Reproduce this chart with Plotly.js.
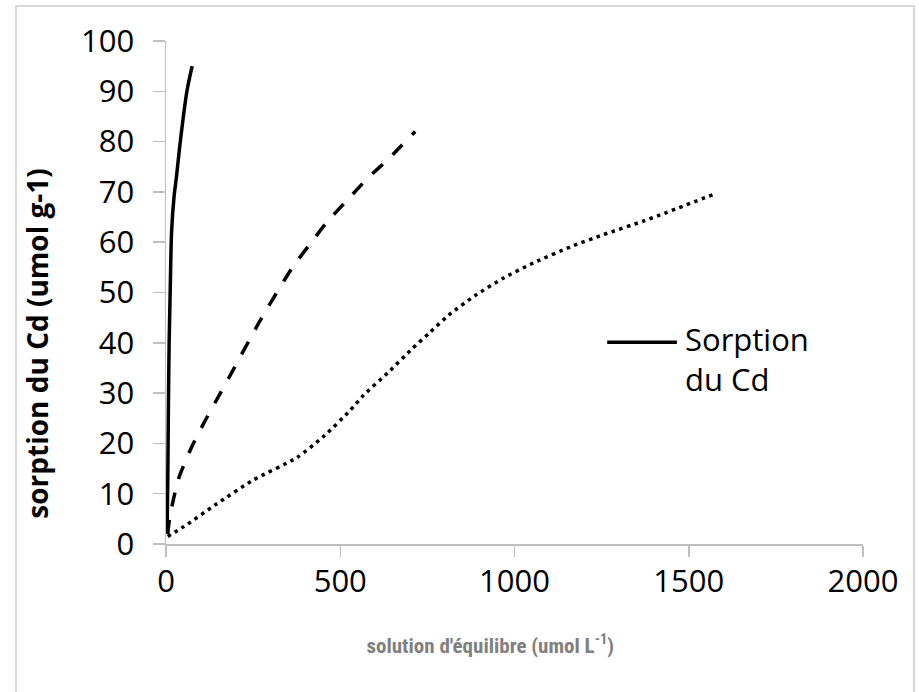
<!DOCTYPE html>
<html>
<head>
<meta charset="utf-8">
<script src="https://cdn.plot.ly/plotly-3.0.1.min.js"></script>
<style>
  html, body { margin: 0; padding: 0; background: #fff; }
  #wrap { position: relative; width: 919px; height: 692px; overflow: hidden; }
  #chart { position: absolute; left: 0; top: 0; width: 919px; height: 692px; }
  #frame { position: absolute; left: 15px; top: 5px; width: 896px; height: 720px;
           border: 2px solid #d9d9d9; pointer-events: none; }
</style>
</head>
<body>
<div id="wrap">
  <div id="chart"></div>
  <div id="frame"></div>
</div>
<script>
// ---- data ----
const seriesNames = ["Sorption du Cd", "Série 2", "Série 3"];

const solidX = [3, 5, 7, 9, 12, 16, 23, 30, 41, 60, 75];
const solidY = [2, 12, 28, 40, 50, 62, 69, 73, 80, 90, 95];

const dashX = [5, 10, 17, 36, 75, 113, 156, 184, 270, 361, 414, 462, 519, 577, 639, 715];
const dashY = [2, 5, 7.5, 13, 19.5, 24.6, 30, 33.5, 44.4, 54.8, 59.7, 64, 68.3, 72.6, 76.6, 82];

const dotX = [5, 50, 146, 250, 376, 451, 529, 567, 639, 706, 758, 811, 887, 969, 1055, 1165, 1255, 1370, 1413, 1571];
const dotY = [1.5, 3.4, 8, 12.7, 17.2, 21.3, 26.6, 29.6, 34.2, 38.8, 42.1, 45.5, 49.4, 52.9, 55.9, 59.2, 61.5, 64.2, 65.3, 69.5];

const xTicks = [0, 500, 1000, 1500, 2000];
const yTicks = [0, 10, 20, 30, 40, 50, 60, 70, 80, 90, 100];

const xTitle = "solution d'équilibre (umol L<sup>-1</sup>)";
const yTitle = "sorption du Cd (umol g-1)";

// ---- chart ----
const tickFont = { family: "Open Sans, Noto Sans, sans-serif", size: 31, color: "#000" };

const traces = [
  { x: solidX, y: solidY, name: seriesNames[0], type: "scatter", mode: "lines",
    line: { color: "#000", width: 3.5, shape: "spline", smoothing: 0.8 }, showlegend: false },
  { x: dashX, y: dashY, name: seriesNames[1], type: "scatter", mode: "lines",
    line: { color: "#000", width: 3.5, dash: "14px,14px", shape: "spline", smoothing: 0.6 }, showlegend: false },
  { x: dotX, y: dotY, name: seriesNames[2], type: "scatter", mode: "lines",
    line: { color: "#000", width: 3.5, dash: "3.5px,4.5px", shape: "spline", smoothing: 0.6 }, showlegend: false }
];

const layout = {
  width: 919, height: 692,
  margin: { l: 166, r: 56, t: 41, b: 148 },
  paper_bgcolor: "#fff", plot_bgcolor: "#fff",
  showlegend: false,
  xaxis: {
    range: [0, 2000], tickvals: xTicks, ticktext: xTicks.map(String),
    showgrid: false, zeroline: false,
    showline: true, linecolor: "#bfbfbf", linewidth: 1.5,
    ticks: "outside", ticklen: 11, tickwidth: 1.5, tickcolor: "#bfbfbf",
    tickfont: tickFont, ticklabelstandoff: -2,
    title: { text: xTitle + "&nbsp;".repeat(10),
             font: { family: "Liberation Sans Narrow, Arial Narrow, Roboto Condensed, sans-serif", size: 21, color: "#808080", weight: "bold" },
             standoff: 38 }
  },
  yaxis: {
    range: [0, 100], tickvals: yTicks, ticktext: yTicks.map(String),
    showgrid: false, zeroline: false, automargin: true,
    showline: true, linecolor: "#bfbfbf", linewidth: 1.5,
    ticks: "outside", ticklen: 12, tickwidth: 1.5, tickcolor: "#bfbfbf",
    tickfont: tickFont, ticklabelstandoff: 12,
    title: { text: yTitle + "&nbsp;".repeat(14),
             font: { family: "Open Sans, Noto Sans, sans-serif", size: 28, color: "#000", weight: "bold" },
             standoff: 24 }
  },
  shapes: [
    { type: "line", xref: "paper", yref: "paper",
      x0: 0.633, x1: 0.733, y0: 0.401, y1: 0.401,
      line: { color: "#000", width: 3.5 } }
  ],
  annotations: [
    { xref: "paper", yref: "paper", x: 0.742, y: 0.401 + 0.052,
      xanchor: "left", yanchor: "top", align: "left", showarrow: false,
      text: "Sorption<br>du Cd",
      font: { family: "Open Sans, Noto Sans, sans-serif", size: 31, color: "#000" } }
  ]
};

Plotly.newPlot("chart", traces, layout, { displayModeBar: false, staticPlot: true });
</script>
</body>
</html>
